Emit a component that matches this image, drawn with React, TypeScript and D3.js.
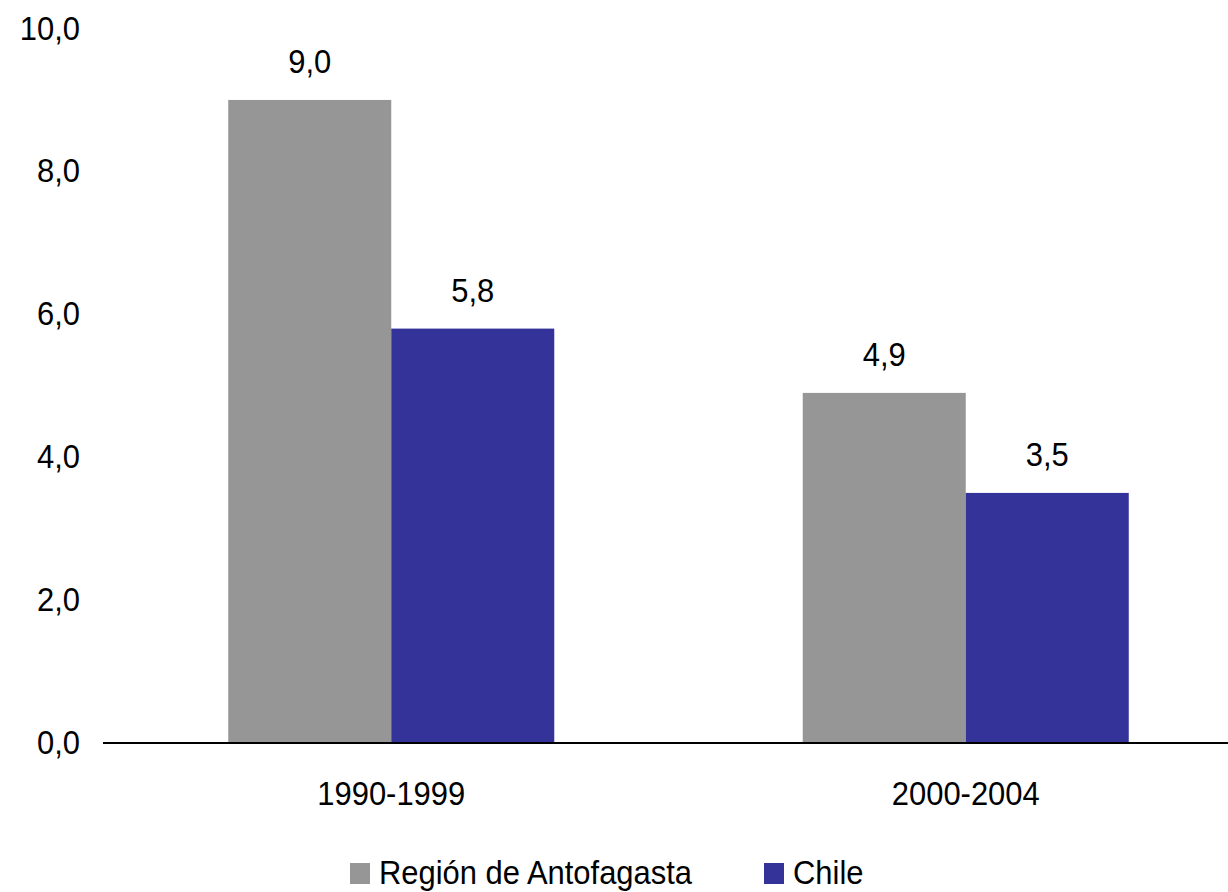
import React from "react";
import * as d3 from "d3";

const categories = ["1990-1999", "2000-2004"];
const seriesNames = ["Región de Antofagasta", "Chile"];
const antofagasta = [9.0, 4.9];
const chile = [5.8, 3.5];
const yTicks = [0, 2, 4, 6, 8, 10];
const colors = ["#969696", "#333399"];

const W = 1228;
const H = 892;
const FONT = "'Liberation Sans', Arial, sans-serif";
const FS = 34;
const SX = 0.91;

function fmt(v: number) {
  return v.toFixed(1).replace(".", ",");
}

function T({ x, y, anchor, children }: { x: number; y: number; anchor: string; children: React.ReactNode }) {
  return (
    <text
      transform={`translate(${x},${y}) scale(${SX},1)`}
      textAnchor={anchor}
      fontFamily={FONT}
      fontSize={FS}
      fill="#000"
    >
      {children}
    </text>
  );
}

export default function App() {
  const y = d3.scaleLinear().domain([0, 10]).range([743, 28.5]);
  const x0 = d3
    .scaleBand<string>()
    .domain(categories)
    .range([104, 1253])
    .paddingInner(0.4325)
    .paddingOuter(0.21625);
  const x1 = d3.scaleBand<number>().domain([0, 1]).range([0, x0.bandwidth()]);
  const series = [antofagasta, chile];

  return (
    <svg
      width={W}
      height={H}
      style={{ position: "absolute", left: 0, top: 0, background: "#fff" }}
    >
      <rect width={W} height={H} fill="#fff" />
      {yTicks.map((t) => (
        <T key={t} x={80} y={y(t) + 11} anchor="end">
          {fmt(t)}
        </T>
      ))}
      {categories.map((c, ci) => (
        <g key={c}>
          {series.map((s, si) => {
            const bx = (x0(c) as number) + (x1(si) as number);
            return (
              <g key={si}>
                <rect
                  x={bx}
                  y={y(s[ci])}
                  width={x1.bandwidth()}
                  height={y(0) - y(s[ci])}
                  fill={colors[si]}
                />
                <T x={bx + x1.bandwidth() / 2} y={y(s[ci]) - 27} anchor="middle">
                  {fmt(s[ci])}
                </T>
              </g>
            );
          })}
          <T x={(x0(c) as number) + x0.bandwidth() / 2} y={805} anchor="middle">
            {c}
          </T>
        </g>
      ))}
      <line x1={103} x2={1253} y1={y(0)} y2={y(0)} stroke="#000" strokeWidth={2} />
      {seriesNames.map((n, i) => {
        const lx = [350, 764][i];
        return (
          <g key={n}>
            <rect x={lx} y={863} width={20} height={21} fill={colors[i]} />
            <T x={lx + 29} y={884} anchor="start">
              {n}
            </T>
          </g>
        );
      })}
    </svg>
  );
}
